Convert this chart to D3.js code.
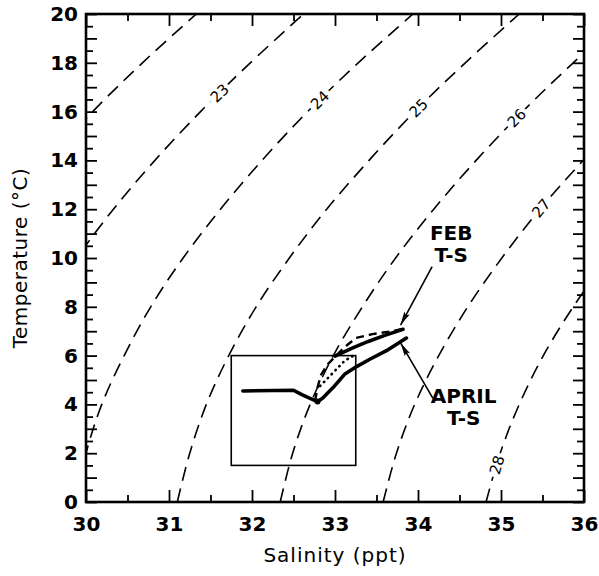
<!DOCTYPE html>
<html><head><meta charset="utf-8">
<script src="https://cdn.jsdelivr.net/npm/d3@7"></script>
<style>body{margin:0;background:#fff}</style>
</head><body>
<svg id="c" width="599" height="576"></svg>
<script>
// ---- data ----
const salinityMajor = [30,31,32,33,34,35,36];
const salinityMinor = [30.5,31.5,32.5,33.5,34.5,35.5];
const tempMajor = [0,1,2,3,4,5,6,7,8,9,10,11,12,13,14,15,16,17,18,19,20];
const tempMinor = [0.5,1.5,2.5,3.5,4.5,5.5,6.5,7.5,8.5,9.5,10.5,11.5,12.5,13.5,14.5,15.5,16.5,17.5,18.5,19.5];
const tempLabels = [0,2,4,6,8,10,12,14,16,18,20];

// isopycnals (sigma-t), [salinity, temperature]
const iso22 = [[29.54,14],[30.08,16],[30.68,18],[31.33,20]];
const iso23 = [[29.51,8],[29.89,10],[30.33,12],[30.83,14],[31.38,16],[31.98,18],[32.62,20]];
const iso24 = [[29.87,0],[30.0,2],[30.19,4],[30.46,6],[30.78,8],[31.17,10],[31.62,12],[32.12,14],[32.67,16],[33.28,18],[33.94,20]];
const iso25 = [[31.10,0],[31.25,2],[31.45,4],[31.72,6],[32.05,8],[32.45,10],[32.90,12],[33.41,14],[33.96,16],[34.57,18],[35.22,20]];
const iso26 = [[32.34,0],[32.49,2],[32.70,4],[32.98,6],[33.33,8],[33.73,10],[34.19,12],[34.70,14],[35.26,16],[35.87,18],[36.52,20]];
const iso27 = [[33.58,0],[33.74,2],[33.96,4],[34.25,6],[34.60,8],[35.01,10],[35.47,12],[35.99,14],[36.55,16]];
const iso28 = [[34.82,0],[34.99,2],[35.22,4],[35.51,6],[35.87,8],[36.29,10]];
const isopycnals = [iso22, iso23, iso24, iso25, iso26, iso27, iso28];
const sigmaValues = [22,23,24,25,26,27,28];
const sigmaLabelTemps = [null,16.76,16.48,16.15,15.74,12.05,1.52];

// T-S curves
const aprilS = [31.89,32.50,32.60,32.72,32.79,32.85,32.98,33.12,33.26,33.42,33.62,33.86];
const aprilT = [4.55,4.58,4.40,4.22,4.12,4.25,4.70,5.25,5.55,5.85,6.20,6.72];
const febS = [33.00,33.20,33.40,33.60,33.82];
const febT = [5.98,6.30,6.58,6.83,7.08];
const febDashS = [32.76,32.79,32.83,32.90,33.00,33.10,33.25,33.45,33.65,33.80];
const febDashT = [4.15,4.70,5.20,5.60,5.95,6.30,6.72,6.88,6.98,7.08];
const dotS = [32.82,32.92,33.02,33.12,33.20,33.22];
const dotT = [4.75,5.10,5.45,5.80,5.95,6.0];

// sampling box
const boxS = [31.75,33.25];
const boxT = [1.5,6.0];

// annotations
const noteText = [["FEB","T-S"],["APRIL","T-S"]];
const noteS = [34.40,34.55];
const noteT = [10.75,4.05];
const arrowFromS = [34.17,34.18];
const arrowFromT = [9.65,4.25];
const arrowToS = [33.79,33.79];
const arrowToT = [7.25,6.52];

// ---- chart ----
const svg = d3.select("#c");
const x = d3.scaleLinear().domain([30,36]).range([86,584]);
const y = d3.scaleLinear().domain([0,20]).range([502,14]);
const font = "'DejaVu Sans', sans-serif";

svg.append("defs").append("clipPath").attr("id","clip")
  .append("rect").attr("x",86).attr("y",14).attr("width",498).attr("height",488);

const plot = svg.append("g").attr("clip-path","url(#clip)");
const line = d3.line().x(d=>x(d[0])).y(d=>y(d[1])).curve(d3.curveCatmullRom);

isopycnals.forEach(pts=>{
  plot.append("path").attr("d",line(pts)).attr("fill","none")
    .attr("stroke","#000").attr("stroke-width",1.6).attr("stroke-dasharray","14,8");
});

function sAt(pts,t){
  for(let i=0;i<pts.length-1;i++){
    const a=pts[i],b=pts[i+1];
    if(t>=a[1]&&t<=b[1]){const f=(t-a[1])/(b[1]-a[1]);return a[0]+f*(b[0]-a[0]);}
  }
  return pts[pts.length-1][0];
}
isopycnals.forEach((pts,i)=>{
  const t=sigmaLabelTemps[i]; if(t==null) return;
  const s=sAt(pts,t);
  const s1=sAt(pts,t-0.6), s2=sAt(pts,t+0.6);
  const ang=Math.atan2(y(t+0.6)-y(t-0.6), x(s2)-x(s1))*180/Math.PI;
  svg.append("text").attr("x",x(s)).attr("y",y(t))
    .attr("transform",`rotate(${ang},${x(s)},${y(t)})`)
    .attr("text-anchor","middle").attr("dy","0.36em")
    .attr("font-family",font).attr("font-size",15)
    .attr("stroke","#fff").attr("stroke-width",8).attr("paint-order","stroke")
    .attr("fill","#000").text(sigmaValues[i]);
});

// box
svg.append("rect").attr("x",x(boxS[0])).attr("y",y(boxT[1]))
  .attr("width",x(boxS[1])-x(boxS[0])).attr("height",y(boxT[0])-y(boxT[1]))
  .attr("fill","none").attr("stroke","#000").attr("stroke-width",1.6);

const lineL = d3.line().x(d=>x(d[0])).y(d=>y(d[1])).curve(d3.curveLinear);
const zip=(a,b)=>a.map((v,i)=>[v,b[i]]);
svg.append("path").attr("d",lineL(zip(dotS,dotT))).attr("fill","none")
  .attr("stroke","#000").attr("stroke-width",2.6).attr("stroke-linecap","round").attr("stroke-dasharray","0.5,5");
svg.append("path").attr("d",lineL(zip(febDashS,febDashT))).attr("fill","none")
  .attr("stroke","#000").attr("stroke-width",2.4).attr("stroke-dasharray","8,5");
svg.append("path").attr("d",lineL(zip(febS,febT))).attr("fill","none")
  .attr("stroke","#000").attr("stroke-width",3.6).attr("stroke-linecap","round");
svg.append("path").attr("d",lineL(zip(aprilS,aprilT))).attr("fill","none")
  .attr("stroke","#000").attr("stroke-width",3.6).attr("stroke-linecap","round").attr("stroke-linejoin","round");
svg.append("circle").attr("cx",x(32.79)).attr("cy",y(4.12)).attr("r",3).attr("fill","#000");

// annotations
noteText.forEach((lines,i)=>{
  lines.forEach((t,j)=>{
    svg.append("text").attr("x",x(noteS[i])).attr("y",y(noteT[i])+j*22)
      .attr("text-anchor","middle").attr("font-family",font).attr("font-size",20)
      .attr("font-weight","bold").attr("fill","#000").text(t);
  });
  const x1=x(arrowFromS[i]),y1=y(arrowFromT[i]),x2=x(arrowToS[i]),y2=y(arrowToT[i]);
  svg.append("line").attr("x1",x1).attr("y1",y1).attr("x2",x2).attr("y2",y2)
    .attr("stroke","#000").attr("stroke-width",1.6);
  const a=Math.atan2(y2-y1,x2-x1), L=14, w=0.22;
  const p=[[x2,y2],[x2-L*Math.cos(a-w),y2-L*Math.sin(a-w)],[x2-L*0.8*Math.cos(a),y2-L*0.8*Math.sin(a)],[x2-L*Math.cos(a+w),y2-L*Math.sin(a+w)]];
  svg.append("path").attr("d","M"+p.map(d=>d.join(",")).join("L")+"Z").attr("fill","#000");
});

// axes
function styleAxis(g){ g.select(".domain").remove(); g.selectAll("line").attr("stroke","#000").attr("stroke-width",1.8);
  g.selectAll("text").attr("font-family",font).attr("font-size",20).attr("font-weight","bold").attr("fill","#000"); }
svg.append("g").attr("transform","translate(0,502)")
  .call(d3.axisBottom(x).tickValues(salinityMajor).tickSize(-12).tickPadding(15).tickFormat(d3.format("d"))).call(styleAxis);
svg.append("g").attr("transform","translate(0,502)")
  .call(d3.axisBottom(x).tickValues(salinityMinor).tickSize(-7).tickFormat("")).call(styleAxis);
svg.append("g").attr("transform","translate(0,14)")
  .call(d3.axisTop(x).tickValues(salinityMajor).tickSize(-12).tickFormat("")).call(styleAxis);
svg.append("g").attr("transform","translate(0,14)")
  .call(d3.axisTop(x).tickValues(salinityMinor).tickSize(-7).tickFormat("")).call(styleAxis);
svg.append("g").attr("transform","translate(86,0)")
  .call(d3.axisLeft(y).tickValues(tempMajor).tickSize(-11).tickPadding(8).tickFormat(d=>tempLabels.includes(d)?d:"")).call(styleAxis);
svg.append("g").attr("transform","translate(86,0)")
  .call(d3.axisLeft(y).tickValues(tempMinor).tickSize(-7).tickFormat("")).call(styleAxis);
svg.append("g").attr("transform","translate(584,0)")
  .call(d3.axisRight(y).tickValues(tempMajor).tickSize(-11).tickFormat("")).call(styleAxis);
svg.append("g").attr("transform","translate(584,0)")
  .call(d3.axisRight(y).tickValues(tempMinor).tickSize(-7).tickFormat("")).call(styleAxis);

svg.append("rect").attr("x",86).attr("y",14).attr("width",498).attr("height",488)
  .attr("fill","none").attr("stroke","#000").attr("stroke-width",2.6);

svg.append("text").attr("x",335).attr("y",562).attr("text-anchor","middle")
  .attr("font-family",font).attr("font-size",20).attr("letter-spacing",1).attr("fill","#000").text("Salinity (ppt)");
svg.append("text").attr("transform","translate(27,258) rotate(-90)").attr("text-anchor","middle")
  .attr("font-family",font).attr("font-size",20).attr("letter-spacing",0.5).attr("fill","#000").text("Temperature (°C)");
</script>
</body></html>
